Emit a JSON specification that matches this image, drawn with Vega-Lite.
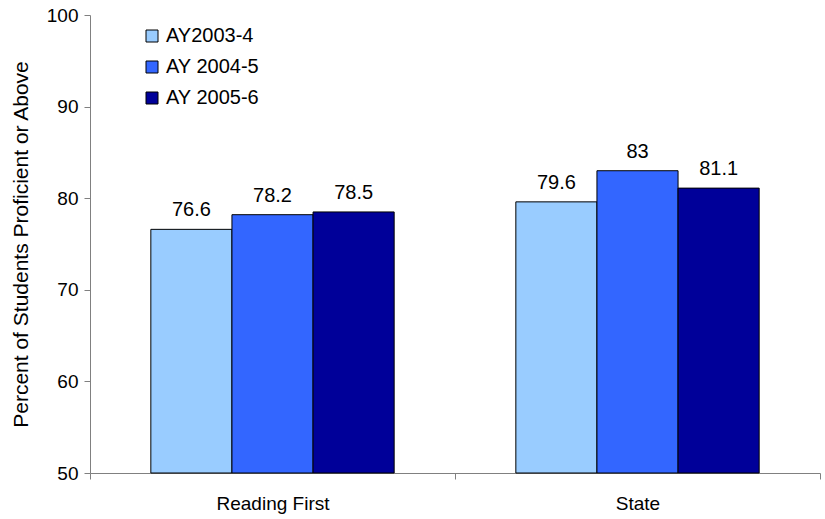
{
  "$schema": "https://vega.github.io/schema/vega-lite/v6.json",
  "width": 730,
  "height": 458,
  "autosize": {"type": "none"},
  "padding": {"left": 90, "top": 15, "right": 5, "bottom": 46},
  "background": "white",
  "config": {
    "view": {"stroke": null},
    "font": "Liberation Sans",
    "axis": {"labelFont": "Liberation Sans", "titleFont": "Liberation Sans", "labelColor": "#000000", "titleColor": "#000000", "domainColor": "#808080", "tickColor": "#808080"}
  },
  "data": {
    "values": [
      {"group": "Reading First", "year": "AY2003-4", "value": 76.6},
      {"group": "Reading First", "year": "AY 2004-5", "value": 78.2},
      {"group": "Reading First", "year": "AY 2005-6", "value": 78.5},
      {"group": "State", "year": "AY2003-4", "value": 79.6},
      {"group": "State", "year": "AY 2004-5", "value": 83},
      {"group": "State", "year": "AY 2005-6", "value": 81.1}
    ]
  },
  "encoding": {
    "x": {
      "field": "group", "type": "nominal", "sort": null,
      "scale": {"paddingInner": 0, "paddingOuter": 0},
      "axis": {"title": null, "labelAngle": 0, "labelFontSize": 19, "labelPadding": 15, "tickBand": "extent", "tickSize": 6, "grid": false}
    },
    "xOffset": {
      "field": "year", "type": "nominal", "sort": ["AY2003-4", "AY 2004-5", "AY 2005-6"],
      "scale": {"paddingInner": 0, "paddingOuter": 0.75}
    },
    "y": {
      "field": "value", "type": "quantitative",
      "scale": {"domain": [50, 100], "nice": false, "zero": false},
      "axis": {"title": "Percent of Students Proficient or Above", "titleFontSize": 21, "titleFontWeight": "normal", "titlePadding": 15, "labelFontSize": 19, "labelPadding": 6, "tickSize": 6, "values": [50, 60, 70, 80, 90, 100], "grid": false}
    }
  },
  "layer": [
    {
      "mark": {"type": "bar", "stroke": "#000000", "strokeWidth": 1},
      "encoding": {
        "y2": {"datum": 50},
        "color": {
          "field": "year", "type": "nominal", "sort": ["AY2003-4", "AY 2004-5", "AY 2005-6"],
          "scale": {"domain": ["AY2003-4", "AY 2004-5", "AY 2005-6"], "range": ["#99CCFF", "#3366FF", "#000099"]},
          "legend": {
            "title": null, "orient": "none", "legendX": 52, "legendY": 11,
            "symbolType": "square", "symbolSize": 144, "symbolStrokeColor": "#000000", "symbolStrokeWidth": 1,
            "labelFontSize": 20, "labelOffset": 4, "rowPadding": 11, "labelColor": "#000000"
          }
        }
      }
    },
    {
      "mark": {"type": "text", "baseline": "alphabetic", "dy": -13, "fontSize": 20, "color": "#000000"},
      "encoding": {"text": {"field": "value", "type": "quantitative"}}
    }
  ]
}
